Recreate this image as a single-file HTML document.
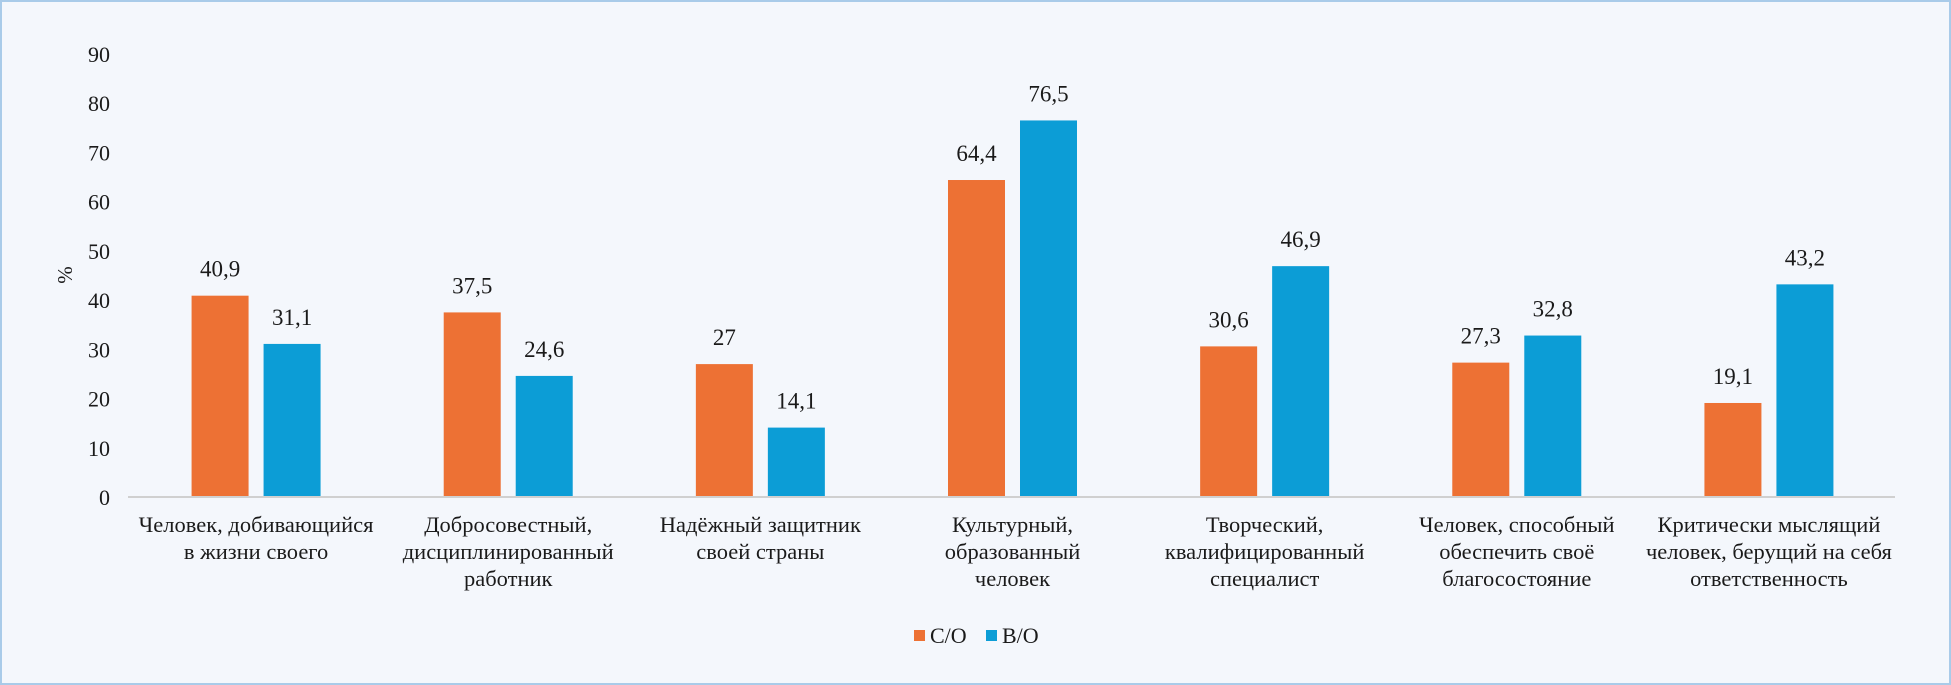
<!DOCTYPE html>
<html><head><meta charset="utf-8"><style>
html,body{margin:0;padding:0;}
body{width:1951px;height:685px;background:#f4f7fc;overflow:hidden;}
svg{display:block;}
text{font-family:"Liberation Serif",serif;fill:#1a1a1a;}
</style></head><body>
<svg id="chart" width="1951" height="685" viewBox="0 0 1951 685" xmlns="http://www.w3.org/2000/svg">
<rect x="1" y="1" width="1949" height="683" fill="#f4f7fc" stroke="#a9cbe9" stroke-width="2"/>
<g id="yticks"></g>
<g id="bars"></g>
<g id="xlabels"></g>
<line x1="128" y1="497" x2="1895" y2="497" stroke="#d0d0d0" stroke-width="2"/>
<text transform="translate(72,275) rotate(-90)" font-size="21" text-anchor="middle">%</text>
<g>
<rect x="914" y="630" width="11" height="11" fill="#ed7134"/>
<text x="930" y="643" font-size="22">С/О</text>
<rect x="986" y="630" width="11" height="11" fill="#0c9dd6"/>
<text x="1002" y="643" font-size="22">В/О</text>
</g>
</svg>
<script>
const categories=[["Человек, добивающийся","в жизни своего"],["Добросовестный,","дисциплинированный","работник"],["Надёжный защитник","своей страны"],["Культурный,","образованный","человек"],["Творческий,","квалифицированный","специалист"],["Человек, способный","обеспечить своё","благосостояние"],["Критически мыслящий","человек, берущий на себя","ответственность"]];
const seriesSO=[40.9,37.5,27,64.4,30.6,27.3,19.1];
const seriesVO=[31.1,24.6,14.1,76.5,46.9,32.8,43.2];
const labelsSO=["40,9","37,5","27","64,4","30,6","27,3","19,1"];
const labelsVO=["31,1","24,6","14,1","76,5","46,9","32,8","43,2"];
const yTicks=[0,10,20,30,40,50,60,70,80,90];

const NS="http://www.w3.org/2000/svg";
const x0=130,x1=1895,y0=497,yTop=54,yMax=90;
const band=(x1-x0)/categories.length;
const y=v=>y0-(v/yMax)*(y0-yTop);
function mk(tag,attrs,parent){const e=document.createElementNS(NS,tag);for(const k in attrs)e.setAttribute(k,attrs[k]);parent.appendChild(e);return e;}
const gT=document.getElementById('yticks'),gB=document.getElementById('bars'),gX=document.getElementById('xlabels');
yTicks.forEach(t=>{
 const e=mk('text',{x:110,y:y(t)+8,'font-size':22,'text-anchor':'end'},gT);
 
 
 e.textContent=t;
});
const bw=57,gap=15;
categories.forEach((c,i)=>{
 const cx=x0+band*(i+0.5);
 const xo=cx-gap/2-bw, xb=cx+gap/2;
 const r1=mk('rect',{x:xo,y:y(seriesSO[i]),width:bw,height:y0-y(seriesSO[i]),fill:'#ed7134'},gB);
 
 
 const r2=mk('rect',{x:xb,y:y(seriesVO[i]),width:bw,height:y0-y(seriesVO[i]),fill:'#0c9dd6'},gB);
 
 
 const l1=mk('text',{x:xo+bw/2,y:y(seriesSO[i])-19,'font-size':23,'text-anchor':'middle'},gB);
 
 
 l1.textContent=labelsSO[i];
 const l2=mk('text',{x:xb+bw/2,y:y(seriesVO[i])-19,'font-size':23,'text-anchor':'middle'},gB);
 
 
 l2.textContent=labelsVO[i];
 c.forEach((line,j)=>{
  const t=mk('text',{x:cx,y:532+j*27,'font-size':22.5,'text-anchor':'middle'},gX);
  
  
  t.textContent=line;
 });
});
</script>
</body></html>
